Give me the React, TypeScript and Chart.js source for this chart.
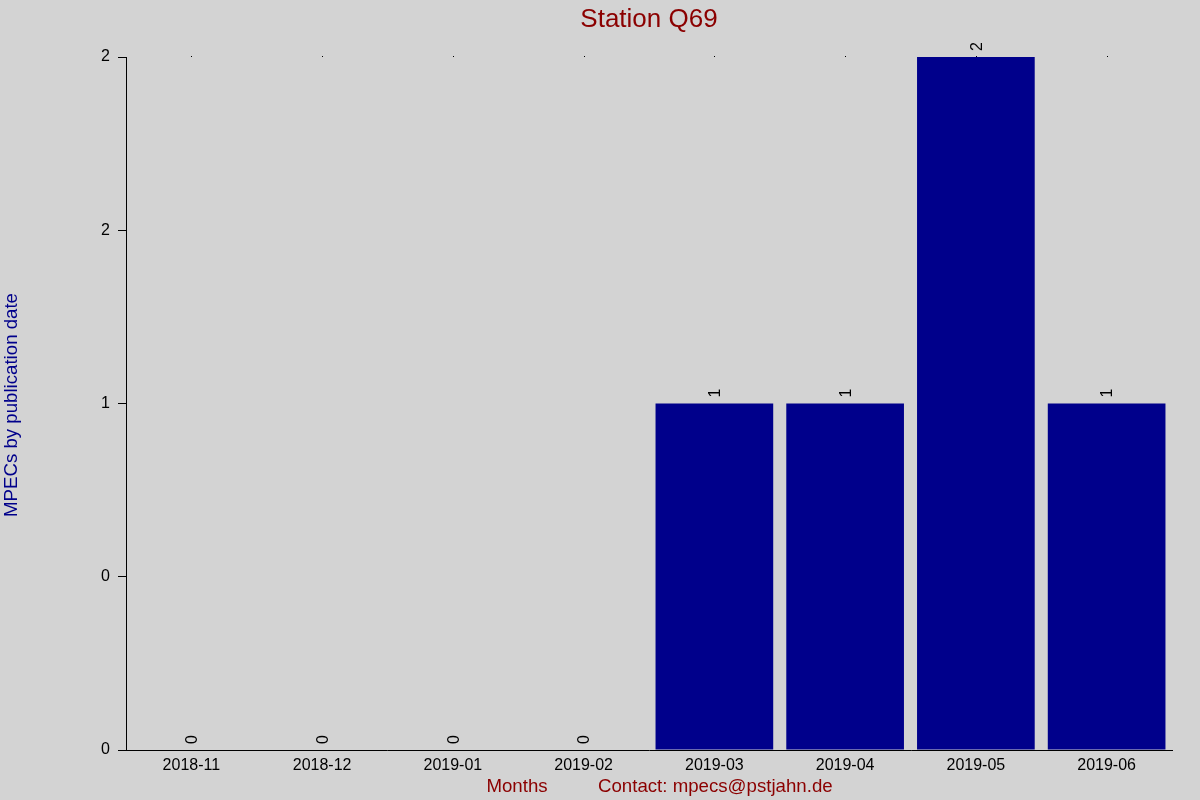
import React, { useEffect, useRef } from "react";
import { Chart, registerables } from "chart.js";

Chart.register(...registerables);

const months = ["2018-11", "2018-12", "2019-01", "2019-02", "2019-03", "2019-04", "2019-05", "2019-06"];
const mpecCounts = [0, 0, 0, 0, 1, 1, 2, 1];
const yTickValues = [0, 0.5, 1, 1.5, 2];
const yTickLabels = ["0", "0", "1", "2", "2"];
const chartTitle = "Station Q69";
const yAxisTitle = "MPECs by publication date";
const xAxisTitle = "Months";
const contactText = "Contact: mpecs@pstjahn.de";

const FONT = "'Liberation Sans', Arial, sans-serif";
const DARKRED = "#8B0000";
const DARKBLUE = "#00008B";
const BG = "#D3D3D3";

export default function App() {
  const ref = useRef<HTMLCanvasElement | null>(null);

  useEffect(() => {
    const canvas = ref.current;
    if (!canvas) return;

    const decor = {
      id: "decor",
      beforeDraw(chart: any) {
        const c = chart.ctx;
        c.save();
        c.fillStyle = BG;
        c.fillRect(0, 0, chart.width, chart.height);
        c.restore();
      },
      beforeDatasetsDraw(chart: any) {
        const c = chart.ctx;
        const xs = chart.scales.x;
        const top = chart.chartArea.top;
        c.save();
        c.fillStyle = "#000";
        months.forEach((_, i) => {
          const px = Math.round(xs.getPixelForValue(i));
          c.fillRect(px, Math.round(top) - 1, 1, 1);
        });
        c.restore();
      },
      afterDatasetsDraw(chart: any) {
        const c = chart.ctx;
        const meta = chart.getDatasetMeta(0);
        c.save();
        c.fillStyle = "#000";
        c.font = `16px ${FONT}`;
        c.textAlign = "left";
        c.textBaseline = "alphabetic";
        meta.data.forEach((bar: any, i: number) => {
          c.save();
          c.translate(bar.x, bar.y - 6);
          c.rotate(-Math.PI / 2);
          c.fillText(String(mpecCounts[i]), 0, 16 * 0.36);
          c.restore();
        });
        c.restore();
      },
      afterDraw(chart: any) {
        const c = chart.ctx;
        c.save();
        // Title
        c.fillStyle = DARKRED;
        c.font = `26px ${FONT}`;
        c.textAlign = "center";
        c.textBaseline = "alphabetic";
        c.fillText(chartTitle, 649, 27);
        // X axis title and contact
        c.font = `18.67px ${FONT}`;
        c.fillText(xAxisTitle, 517, 792);
        c.textAlign = "left";
        c.fillText(contactText, 598, 792);
        // Y axis title
        c.fillStyle = DARKBLUE;
        c.translate(17, 405);
        c.rotate(-Math.PI / 2);
        c.textAlign = "center";
        c.fillText(yAxisTitle, 0, 0);
        c.restore();
      },
    };

    const chart = new Chart(canvas, {
      type: "bar",
      data: {
        labels: months,
        datasets: [
          {
            data: mpecCounts,
            backgroundColor: DARKBLUE,
            borderWidth: 0,
            categoryPercentage: 0.9,
            barPercentage: 1.0,
          },
        ],
      },
      options: {
        animation: false,
        responsive: false,
        devicePixelRatio: 1,
        layout: { padding: { left: 0, top: 57, right: 28, bottom: 0 } },
        plugins: {
          legend: { display: false },
          title: { display: false },
          tooltip: { enabled: false },
        },
        scales: {
          x: {
            offset: true,
            grid: { display: false, drawTicks: false },
            border: { display: true, color: "#000", width: 1 },
            ticks: {
              color: "#000",
              font: { family: FONT, size: 16 },
              padding: 6,
              maxRotation: 0,
              autoSkip: false,
            },
            afterFit(scale: any) {
              scale.height = 50;
            },
          },
          y: {
            min: 0,
            max: 2,
            grid: { drawOnChartArea: false, drawTicks: true, tickLength: 8, color: "#000" },
            border: { display: true, color: "#000", width: 1 },
            afterBuildTicks(scale: any) {
              scale.ticks = yTickValues.map((v) => ({ value: v }));
            },
            ticks: {
              color: "#000",
              font: { family: FONT, size: 16 },
              padding: 8,
              callback(_value: any, index: number) {
                return yTickLabels[index];
              },
            },
            afterFit(scale: any) {
              scale.width = 126;
            },
          },
        },
      },
      plugins: [decor],
    } as any);

    return () => chart.destroy();
  }, []);

  return (
    <div style={{ position: "fixed", left: 0, top: 0, width: 1200, height: 800, background: BG }}>
      <canvas ref={ref} width={1200} height={800} style={{ display: "block", width: 1200, height: 800 }} />
    </div>
  );
}
